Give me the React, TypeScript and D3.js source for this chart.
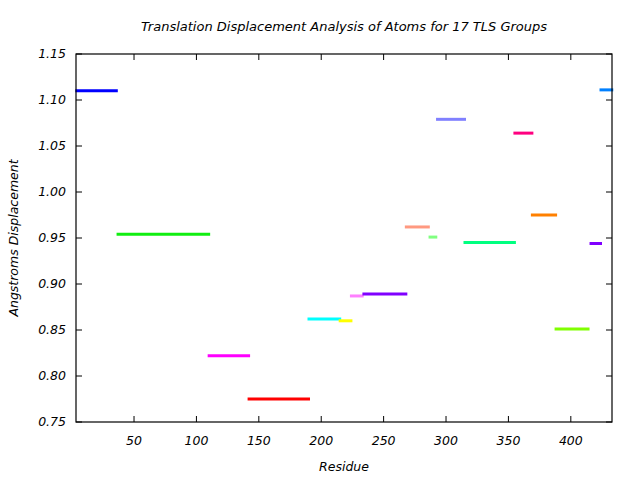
import React from "react";
import * as d3 from "d3";

const groupStart = [3, 36, 109, 141, 189, 214, 223, 233, 267, 286, 292, 314, 354, 368, 387, 415, 423];
const groupEnd = [37, 111, 143, 191, 216, 225, 234, 269, 287, 293, 316, 356, 370, 389, 415, 425, 434];
const groupValue = [1.11, 0.954, 0.822, 0.775, 0.862, 0.86, 0.887, 0.889, 0.962, 0.951, 1.079, 0.945, 1.064, 0.975, 0.851, 0.944, 1.111];
const groupColor = [
  "#0000ff", "#11ee11", "#ff00ff", "#ff0000", "#00ffff", "#ffff00", "#ff80ff", "#8000ff", "#ff9980",
  "#80ff80", "#8080ff", "#00ff80", "#ff0080", "#ff8000", "#80ff00", "#8000ff", "#0080ff",
];
const xTicks = [50, 100, 150, 200, 250, 300, 350, 400];
const yTicks = [0.75, 0.8, 0.85, 0.9, 0.95, 1.0, 1.05, 1.1, 1.15];

const W = 640, H = 480;
const L = 76, R = 612, T = 54, B = 422;
const font = "'DejaVu Sans', sans-serif";

export default function App() {
  const x = d3.scaleLinear().domain([3.5, 433]).range([L, R]);
  const y = d3.scaleLinear().domain([0.75, 1.15]).range([B, T]);
  const tl = 6;
  return (
    <svg width={W} height={H} style={{ position: "absolute", left: 0, top: 0, background: "#fff" }}>
      <rect x={0} y={0} width={W} height={H} fill="#fff" />
      {groupValue.map((v, i) => (
        <line key={i} x1={x(groupStart[i])} x2={x(groupEnd[i])} y1={y(v)} y2={y(v)}
          stroke={groupColor[i]} strokeWidth={3} />
      ))}
      <rect x={L} y={T} width={R - L} height={B - T} fill="none" stroke="#000" strokeWidth={1.2} />
      {xTicks.map((t) => (
        <g key={"x" + t}>
          <line x1={x(t)} x2={x(t)} y1={B} y2={B - tl} stroke="#000" />
          <line x1={x(t)} x2={x(t)} y1={T} y2={T + tl} stroke="#000" />
          <text x={x(t)} y={B + 23} textAnchor="middle" fontFamily={font} fontStyle="italic" fontSize={12.5}>{t}</text>
        </g>
      ))}
      {yTicks.map((t) => (
        <g key={"y" + t}>
          <line x1={L} x2={L + tl} y1={y(t)} y2={y(t)} stroke="#000" />
          <line x1={R} x2={R - tl} y1={y(t)} y2={y(t)} stroke="#000" />
          <text x={L - 10} y={y(t) + 4} textAnchor="end" fontFamily={font} fontStyle="italic" fontSize={12.5}>{t.toFixed(2)}</text>
        </g>
      ))}
      <text x={(L + R) / 2} y={31} textAnchor="middle" fontFamily={font} fontStyle="italic" fontSize={13}>
        Translation Displacement Analysis of Atoms for 17 TLS Groups
      </text>
      <text x={(L + R) / 2} y={471} textAnchor="middle" fontFamily={font} fontStyle="italic" fontSize={12.5}>Residue</text>
      <text transform={`translate(18,${(T + B) / 2}) rotate(-90)`} textAnchor="middle" fontFamily={font} fontStyle="italic" fontSize={12.5}>
        Angstroms Displacement
      </text>
    </svg>
  );
}
